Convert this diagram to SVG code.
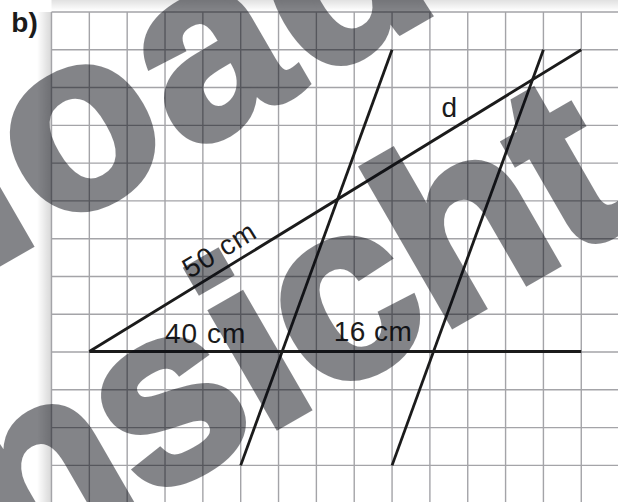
<svg xmlns="http://www.w3.org/2000/svg" width="618" height="502" viewBox="0 0 618 502">
<defs>
<linearGradient id="shL" x1="0" y1="0" x2="1" y2="0">
<stop offset="0" stop-color="#000" stop-opacity="0"/>
<stop offset="1" stop-color="#000" stop-opacity="0.16"/>
</linearGradient>
<linearGradient id="shT" x1="0" y1="0" x2="0" y2="1">
<stop offset="0" stop-color="#000" stop-opacity="0.12"/>
<stop offset="1" stop-color="#000" stop-opacity="0"/>
</linearGradient>
</defs>
<style>
.g{stroke:#a4a4a8;stroke-width:1.4;fill:none}
.k{stroke:#1b1b1b;stroke-width:2.8;fill:none;stroke-linecap:butt}
.lb{font-family:"Liberation Sans",Arial,sans-serif;font-size:28px;fill:#1b1b1b}
.wm{font-family:"Liberation Sans",Arial,sans-serif;font-weight:bold;font-size:250px;fill:#0a0c14;stroke:#0a0c14;stroke-width:7;stroke-linejoin:miter}
</style>
<rect width="618" height="502" fill="#fff"/>
<rect x="51.5" y="0" width="566.5" height="11" fill="url(#shT)"/>
<rect x="37" y="12" width="14.5" height="490" fill="url(#shL)"/>
<g id="grid" class="g">
<path d="M51.5 12V502M89.34 12V502M127.18 12V502M165.02 12V502M202.86 12V502M240.7 12V502M278.54 12V502M316.38 12V502M354.22 12V502M392.06 12V502M429.9 12V502M467.74 12V502M505.58 12V502M543.42 12V502M581.26 12V502"/>
<path d="M51.5 12H618M51.5 49.78H618M51.5 87.56H618M51.5 125.34H618M51.5 163.12H618M51.5 200.9H618M51.5 238.68H618M51.5 276.46H618M51.5 314.24H618M51.5 352.02H618M51.5 389.8H618M51.5 427.58H618M51.5 465.36H618"/>
</g>
<g id="connectors" class="k">
<line id="base" x1="89.34" y1="351.5" x2="581.26" y2="351.5"/>
<line id="hyp" x1="89.34" y1="351.5" x2="581.26" y2="49.78"/>
<line id="par1" x1="240.7" y1="465.36" x2="392.06" y2="49.78"/>
<line id="par2" x1="392.06" y1="465.36" x2="543.42" y2="49.78"/>
</g>
<g id="labels" class="lb">
<text id="lbl-b" x="11.3" y="31.7" font-weight="bold">b)</text>
<text id="lbl-d" x="441.5" y="116.8">d</text>
<text id="lbl-50" transform="translate(224.4 257.7) rotate(-31.5)" text-anchor="middle" letter-spacing="1">50 cm</text>
<text id="lbl-40" x="165" y="342.5" letter-spacing="1">40 cm</text>
<text id="lbl-16" x="333.7" y="341" letter-spacing="0.5">16 cm</text>
</g>
<g id="watermark" opacity="0.5" transform="rotate(-30)">
<text class="wm" x="-849" y="227.5" letter-spacing="5">Download</text>
<text class="wm" x="-453" y="508" letter-spacing="-3">Ansicht</text>
</g>
</svg>
